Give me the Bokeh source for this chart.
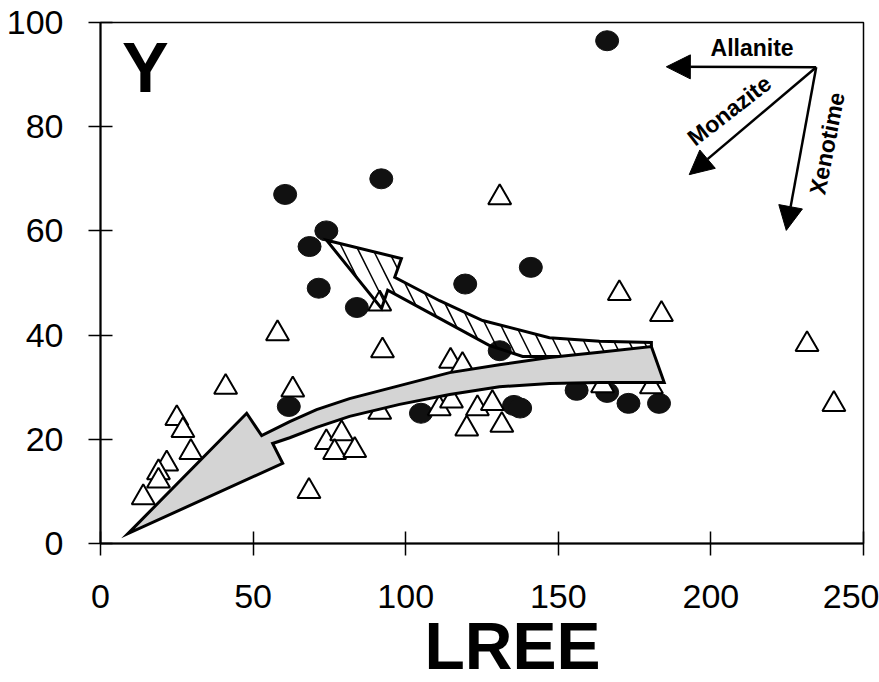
from bokeh.plotting import figure
from bokeh.models import Range1d, FixedTicker, Label, Arrow, NormalHead, Title
from bokeh.embed import file_html
from bokeh.resources import INLINE

# ---- data ----
x_ticks = [0, 50, 100, 150, 200, 250]
y_ticks = [0, 20, 40, 60, 80, 100]

circle_lree = [166, 60.5, 92, 74, 68.5, 71.5, 84, 119.5, 141, 61.7, 105, 130.8,
               135.5, 137.5, 156, 166, 173, 183]
circle_y = [96.5, 67, 70, 60, 57, 49, 45.3, 49.8, 53, 26.3, 25, 37,
            26.5, 26, 29.4, 29, 26.9, 26.9]

tri_lree = [58, 41, 63, 25, 27, 29.6, 21.7, 19, 19, 14, 68.3,
            130.8, 170, 183.8, 231.5, 240.3,
            92.4, 91.5, 114.7, 118.6, 91.5,
            74, 79, 76.7, 83.3,
            111, 115, 123.5, 120, 128.4, 131.5,
            164.5, 180.5]
tri_y = [40.3, 30, 29.5, 24, 21.7, 17.5, 15.3, 13.6, 12, 8.8, 10,
         66.4, 48, 44, 38.2, 26.7,
         37, 46, 35, 34.2, 25.2,
         19.4, 21.1, 17.5, 17.9,
         25.9, 27.4, 25.9, 22, 26.9, 22.7,
         30.3, 30.1]

# trend arrows (outline in data units)
gray_arrow_x = [9.0, 47.9, 52.8, 62.0, 70.8, 81.6, 98.0, 114.4, 130.7, 147.1, 163.5, 180.5,
                184.7, 163.5, 147.1, 130.7, 114.4, 98.0, 81.6, 70.8, 62.0, 56.4, 59.7]
gray_arrow_y = [1.9, 25.0, 20.7, 23.4, 25.7, 27.8, 30.3, 32.8, 34.3, 35.7, 36.7, 37.8,
                30.9, 30.9, 30.7, 30.1, 28.6, 26.7, 24.4, 22.3, 20.3, 19.2, 15.4]
white_arrow_x = [74.1, 98.6, 96.4, 111.1, 125.2, 147.1, 163.5, 180.5, 180.5,
                 163.5, 138.3, 127.5, 111.1, 94.1, 92.1]
white_arrow_y = [58.2, 54.7, 51.1, 46.6, 42.8, 39.5, 38.8, 38.6, 36.7,
                 35.9, 35.9, 38.0, 43.2, 48.6, 45.1]

# mineral vectors
mineral_names = ["Allanite", "Monazite", "Xenotime"]
vector_start = [234.5, 91.4]
vector_end_x = [185.4, 192.9, 224.7]
vector_end_y = [91.5, 70.8, 60.1]
name_x = [213.5, 206.0, 238.1]
name_y = [95.2, 83.1, 76.8]
name_angle = [0.0, 0.66, 1.377]

FONT = "Liberation Sans"

p = figure(width=879, height=682, output_backend="svg", toolbar_location=None,
           x_range=Range1d(0, 250), y_range=Range1d(0, 100),
           min_border_left=100, min_border_right=16, min_border_top=22,
           min_border_bottom=139)

p.xgrid.grid_line_color = None
p.ygrid.grid_line_color = None
p.outline_line_color = "black"
p.outline_line_width = 1.5
p.background_fill_color = "white"

for ax, ticks, standoff in ((p.xaxis, x_ticks, 29), (p.yaxis, y_ticks, 25)):
    ax.ticker = FixedTicker(ticks=ticks)
    ax.major_tick_in = 12
    ax.major_tick_out = 12
    ax.minor_tick_line_color = None
    ax.axis_line_width = 2
    ax.axis_line_color = "black"
    ax.major_tick_line_width = 1.5
    ax.major_tick_line_color = "black"
    ax.major_label_text_font = FONT
    ax.major_label_text_font_size = "34px"
    ax.major_label_text_color = "black"
    ax.major_label_standoff = standoff

# x-axis title (placed as a below-title so it can be shifted like the original)
p.add_layout(Title(text="LREE", align="left", offset=324, text_font=FONT,
                   text_font_size="66px", text_font_style="bold",
                   text_color="black", standoff=-8), "below")

# points
p.ellipse(circle_lree, circle_y, width=23, height=20, width_units="screen",
          height_units="screen", fill_color="#111111", line_color="#111111")
p.scatter(tri_lree, tri_y, marker="triangle", size=23, fill_color="white",
          line_color="black", line_width=2)

# trend arrows
p.patch(white_arrow_x, white_arrow_y, fill_alpha=0, line_color="black",
        line_width=3, line_join="miter", hatch_pattern="left_diagonal_line",
        hatch_scale=30, hatch_weight=1.5, hatch_color="black")
p.patch(gray_arrow_x, gray_arrow_y, fill_color="#d4d4d4", line_color="black",
        line_width=3, line_join="miter")

# mineral vectors
for ex, ey in zip(vector_end_x, vector_end_y):
    p.add_layout(Arrow(end=NormalHead(size=24, fill_color="black", line_color="black"),
                       x_start=vector_start[0], y_start=vector_start[1],
                       x_end=ex, y_end=ey, line_width=2.5, line_color="black"))

for i, name in enumerate(mineral_names):
    p.add_layout(Label(x=name_x[i], y=name_y[i], text=name, angle=name_angle[i],
                       text_font=FONT, text_font_size="23px", text_font_style="bold",
                       text_align="center", text_baseline="middle",
                       text_color="black"))

p.add_layout(Label(x=14.7, y=91.2, text="Y", text_font=FONT, text_font_size="70px",
                   text_font_style="bold", text_align="center",
                   text_baseline="middle", text_color="black"))

open("out.html", "w").write(file_html(p, INLINE))
